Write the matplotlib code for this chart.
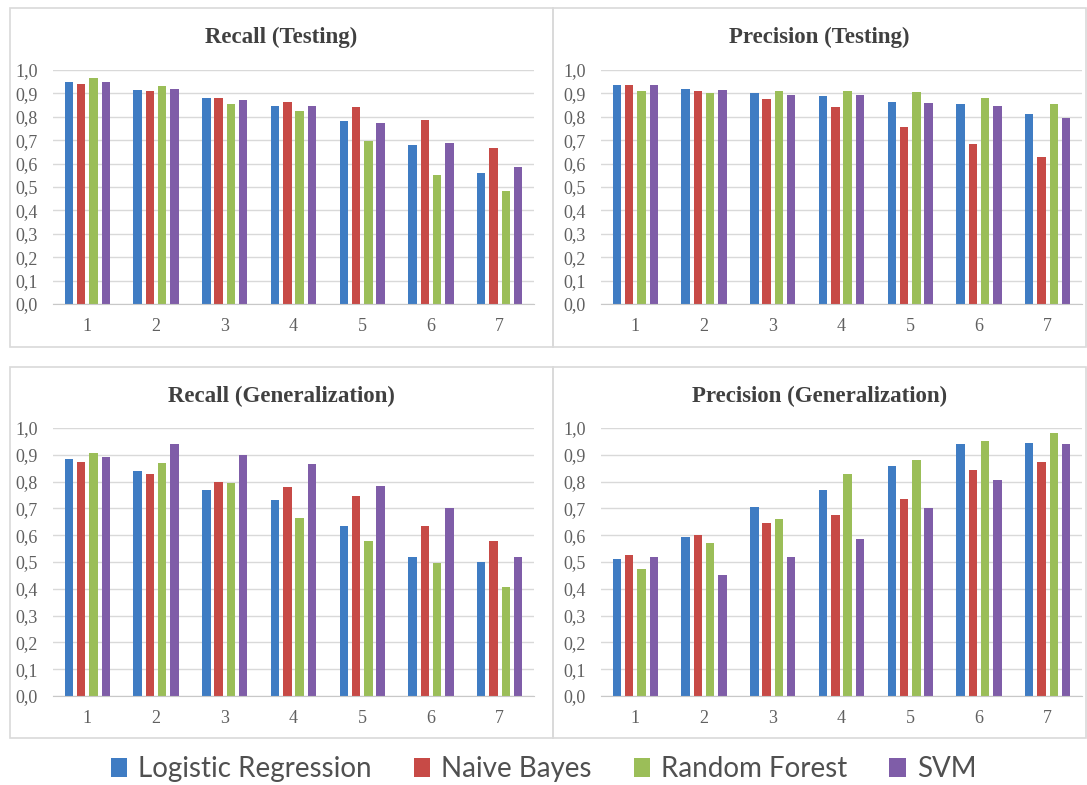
import numpy as np
import matplotlib.pyplot as plt
from matplotlib.patches import Rectangle, Patch

groups = ['1', '2', '3', '4', '5', '6', '7']
models = ['Logistic Regression', 'Naive Bayes', 'Random Forest', 'SVM']
colors = ['#3F7CC3', '#C74A46', '#9BBE58', '#7F5DA8']

# Recall (Testing)
rt_lr = [0.95, 0.915, 0.88, 0.845, 0.78, 0.68, 0.56]
rt_nb = [0.94, 0.91, 0.88, 0.865, 0.84, 0.785, 0.665]
rt_rf = [0.965, 0.93, 0.855, 0.825, 0.695, 0.55, 0.485]
rt_svm = [0.95, 0.92, 0.87, 0.845, 0.775, 0.69, 0.585]

# Precision (Testing)
pt_lr = [0.935, 0.92, 0.90, 0.89, 0.865, 0.855, 0.81]
pt_nb = [0.935, 0.91, 0.875, 0.84, 0.755, 0.685, 0.63]
pt_rf = [0.91, 0.90, 0.91, 0.91, 0.905, 0.88, 0.855]
pt_svm = [0.935, 0.915, 0.895, 0.895, 0.86, 0.845, 0.795]

# Recall (Generalization)
rg_lr = [0.885, 0.84, 0.77, 0.73, 0.635, 0.52, 0.50]
rg_nb = [0.875, 0.83, 0.80, 0.78, 0.745, 0.635, 0.58]
rg_rf = [0.905, 0.87, 0.795, 0.665, 0.58, 0.495, 0.405]
rg_svm = [0.89, 0.94, 0.90, 0.865, 0.785, 0.70, 0.52]

# Precision (Generalization)
pg_lr = [0.51, 0.595, 0.705, 0.77, 0.86, 0.94, 0.945]
pg_nb = [0.525, 0.60, 0.645, 0.675, 0.735, 0.845, 0.875]
pg_rf = [0.475, 0.57, 0.66, 0.83, 0.88, 0.95, 0.98]
pg_svm = [0.52, 0.45, 0.52, 0.585, 0.70, 0.805, 0.94]

yticks = [0.0, 0.1, 0.2, 0.3, 0.4, 0.5, 0.6, 0.7, 0.8, 0.9, 1.0]
ylabels = ['0,0', '0,1', '0,2', '0,3', '0,4', '0,5', '0,6', '0,7', '0,8', '0,9', '1,0']

W, H = 1087, 785
fig = plt.figure(figsize=(W / 100, H / 100), dpi=100)

def px(x0, y0, x1, y1):
    # pixel box -> figure fraction [left, bottom, width, height]
    return [x0 / W, 1 - y1 / H, (x1 - x0) / W, (y1 - y0) / H]

panels = [
    ('Recall (Testing)', [rt_lr, rt_nb, rt_rf, rt_svm], (10, 8, 553, 347), (53, 70, 534, 304), 37),
    ('Precision (Testing)', [pt_lr, pt_nb, pt_rf, pt_svm], (553, 8, 1086, 347), (601, 70, 1082, 304), 37),
    ('Recall (Generalization)', [rg_lr, rg_nb, rg_rf, rg_svm], (10, 367, 553, 738), (53, 428, 534, 696), 396),
    ('Precision (Generalization)', [pg_lr, pg_nb, pg_rf, pg_svm], (553, 367, 1086, 738), (601, 428, 1082, 696), 396),
]

x = np.arange(len(groups))
pitch = 0.179
width = 0.124
serif = ['Liberation Serif', 'DejaVu Serif']

for title, series, box, area, ty in panels:
    bx0, by0, bx1, by1 = box
    fig.patches.append(Rectangle((bx0 / W, 1 - by1 / H), (bx1 - bx0) / W, (by1 - by0) / H,
                                 transform=fig.transFigure, fill=False,
                                 edgecolor='#d9d9d9', linewidth=1.2))
    fig.text((bx0 + bx1) / 2 / W, 1 - ty / H, title, ha='center', va='center',
             fontsize=16.5, fontweight='bold', family=serif, color='#404040')
    ax = fig.add_axes(px(*area))
    for i, vals in enumerate(series):
        ax.bar(x + (i - 1.5) * pitch, vals, width, color=colors[i], zorder=3)
    ax.set_xlim(-0.5, len(groups) - 0.5)
    ax.set_ylim(0, 1.0)
    ax.set_yticks(yticks)
    ax.set_yticklabels(ylabels)
    ax.set_xticks(x)
    ax.set_xticklabels(groups)
    ax.yaxis.grid(True, color='#d9d9d9', linewidth=1.0, zorder=0)
    for s in ['top', 'right', 'left']:
        ax.spines[s].set_visible(False)
    ax.spines['bottom'].set_color('#c8c8c8')
    ax.spines['bottom'].set_zorder(4)
    ax.tick_params(length=0, labelsize=13, labelcolor='#606060')
    ax.tick_params(axis='y', pad=11)
    ax.tick_params(axis='x', pad=10)
    for lab in ax.get_xticklabels() + ax.get_yticklabels():
        lab.set_family(serif)

handles = [Patch(facecolor=c, edgecolor='none') for c in colors]
fig.legend(handles, models, loc='center', bbox_to_anchor=(0.5, 1 - 769 / H), ncol=4,
           frameon=False, prop={'family': 'Lato', 'size': 20}, handlelength=0.6,
           handleheight=0.7, handletextpad=0.4, columnspacing=1.5, labelcolor='#505050')

fig.savefig('out.png', dpi=100, facecolor='white')
